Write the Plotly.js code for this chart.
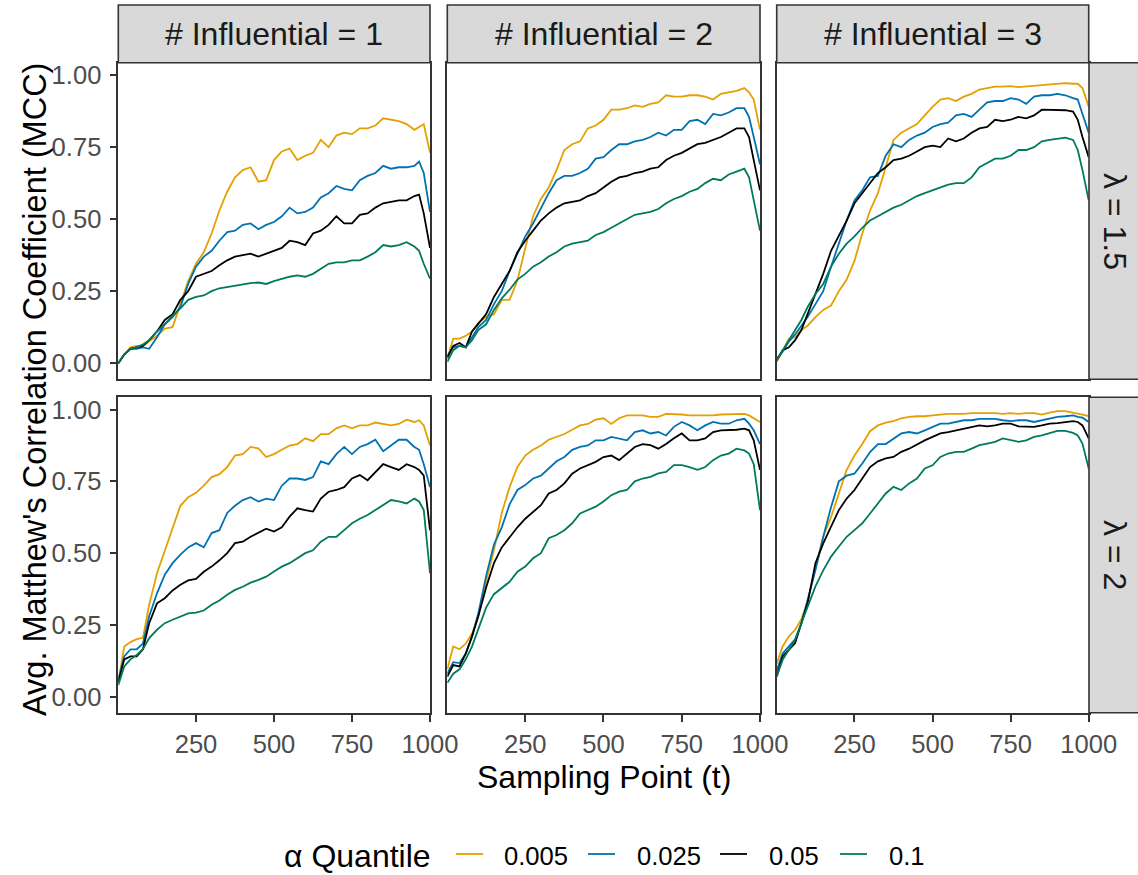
<!DOCTYPE html>
<html>
<head>
<meta charset="utf-8">
<script src="https://cdn.plot.ly/plotly-3.0.1.min.js"></script>
<style>
  html, body { margin: 0; padding: 0; background: #ffffff; }
  #chart { width: 1138px; height: 875px; }
</style>
</head>
<body>
<div id="chart"></div>
<script>
// Sampling points shared by every curve
const samplingPoint = [1, 20, 40, 60, 80, 100, 125, 150, 175, 200, 225, 250, 275, 300, 325, 350, 375, 400, 425, 450,
  475, 500, 525, 550, 575, 600, 625, 650, 675, 700, 725, 750, 775, 800, 825, 850, 875, 900, 925, 950, 965, 980, 1000];

const alphaLevels = ['0.005', '0.025', '0.05', '0.1'];
const alphaColors = ['#E69F00', '#0072B2', '#000000', '#007A5E'];
const influentialLabels = ['# Influential = 1', '# Influential = 2', '# Influential = 3'];
const lambdaLabels = ['\u03bb = 1.5', '\u03bb = 2'];
const xTicks = [250, 500, 750, 1000];
const yTicks = [0, 0.25, 0.5, 0.75, 1];
const yTickText = ['0.00', '0.25', '0.50', '0.75', '1.00'];

// lambda = 1.5, # influential = 1
const mcc_l15_i1_a005 = [0.00,0.03,0.055,0.06,0.06,0.075, 0.095,0.12,0.125,0.205,0.285,0.345,0.385,0.45,0.53,0.595,0.645,0.67,0.68,0.63,
  0.635,0.705,0.735,0.745,0.705,0.72,0.73,0.775,0.75,0.79, 0.80,0.795,0.815,0.815,0.825,0.85,0.845,0.84,0.83,0.81, 0.82,0.83,0.73];
const mcc_l15_i1_a025 = [0.00,0.03,0.05,0.05,0.055,0.05, 0.09,0.135,0.16,0.195,0.275,0.335,0.37,0.39,0.425,0.455,0.46,0.48,0.485,0.465,
  0.48,0.49,0.51,0.54,0.52,0.525,0.54,0.575,0.59,0.615, 0.605,0.60,0.635,0.65,0.66,0.685,0.675,0.68,0.68,0.685, 0.70,0.66,0.525];
const mcc_l15_i1_a05 = [0.00,0.03,0.05,0.055,0.06,0.08, 0.11,0.15,0.17,0.22,0.25,0.30,0.31,0.32,0.34,0.357,0.37,0.375,0.38,0.37,
  0.38,0.39,0.40,0.425,0.42,0.41,0.45,0.46,0.48,0.51, 0.485,0.485,0.515,0.52,0.54,0.555,0.56,0.565,0.565,0.58, 0.585,0.52,0.40];
const mcc_l15_i1_a1 = [0.00,0.03,0.05,0.055,0.065,0.08, 0.11,0.135,0.165,0.19,0.22,0.23,0.235,0.25,0.26,0.265,0.27,0.273,0.278,0.28,
  0.275,0.285,0.293,0.30,0.305,0.30,0.31,0.328,0.345,0.35, 0.35,0.357,0.357,0.37,0.385,0.41,0.405,0.41,0.42,0.405, 0.39,0.345,0.293];

// lambda = 1.5, # influential = 2
const mcc_l15_i2_a005 = [0.015,0.085,0.085,0.095,0.11,0.14, 0.16,0.17,0.22,0.22,0.287,0.40,0.51,0.57,0.61,0.67,0.74,0.76,0.77,0.815,
  0.825,0.845,0.88,0.88,0.885,0.895,0.89,0.90,0.905,0.93, 0.925,0.925,0.93,0.93,0.925,0.915,0.935,0.94,0.945,0.955, 0.94,0.915,0.81];
const mcc_l15_i2_a025 = [0.025,0.055,0.06,0.055,0.09,0.125, 0.15,0.205,0.25,0.32,0.38,0.44,0.485,0.54,0.59,0.635,0.65,0.65,0.66,0.675,
  0.71,0.715,0.74,0.76,0.76,0.77,0.775,0.785,0.80,0.79, 0.81,0.81,0.84,0.845,0.83,0.865,0.86,0.87,0.885,0.885, 0.855,0.785,0.69];
const mcc_l15_i2_a05 = [0.02,0.06,0.07,0.055,0.11,0.135, 0.17,0.23,0.275,0.32,0.385,0.425,0.46,0.495,0.52,0.54,0.555,0.56,0.565,0.58,
  0.59,0.61,0.63,0.645,0.65,0.66,0.665,0.675,0.68,0.705, 0.72,0.73,0.745,0.76,0.765,0.775,0.785,0.80,0.815,0.815, 0.785,0.705,0.60];
const mcc_l15_i2_a1 = [0.005,0.045,0.06,0.055,0.08,0.115, 0.135,0.185,0.225,0.255,0.29,0.31,0.335,0.35,0.37,0.385,0.405,0.415,0.42,0.425,
  0.445,0.455,0.47,0.485,0.50,0.515,0.52,0.525,0.535,0.555, 0.57,0.58,0.595,0.605,0.625,0.64,0.635,0.655,0.665,0.675, 0.645,0.565,0.46];

// lambda = 1.5, # influential = 3
const mcc_l15_i3_a005 = [0.005,0.045,0.085,0.09,0.115,0.13, 0.16,0.185,0.20,0.25,0.29,0.355,0.45,0.53,0.59,0.68,0.775,0.80,0.815,0.83,
  0.86,0.89,0.915,0.92,0.91,0.925,0.935,0.95,0.955,0.96, 0.96,0.962,0.958,0.96,0.963,0.965,0.968,0.97,0.972,0.97, 0.97,0.955,0.89];
const mcc_l15_i3_a025 = [0.015,0.04,0.075,0.10,0.13,0.16, 0.205,0.25,0.335,0.415,0.495,0.565,0.60,0.645,0.65,0.72,0.76,0.75,0.775,0.79,
  0.80,0.82,0.83,0.835,0.86,0.865,0.855,0.88,0.905,0.91, 0.91,0.92,0.915,0.90,0.925,0.93,0.93,0.935,0.93,0.92, 0.915,0.865,0.80];
const mcc_l15_i3_a05 = [0.01,0.045,0.055,0.08,0.115,0.17, 0.24,0.31,0.39,0.44,0.495,0.555,0.59,0.625,0.66,0.68,0.705,0.71,0.72,0.735,
  0.75,0.755,0.75,0.78,0.77,0.78,0.80,0.815,0.82,0.845, 0.84,0.845,0.855,0.85,0.86,0.88,0.88,0.878,0.878,0.873, 0.845,0.785,0.715];
const mcc_l15_i3_a1 = [0.01,0.045,0.08,0.115,0.15,0.195, 0.24,0.275,0.335,0.38,0.415,0.44,0.47,0.495,0.51,0.525,0.54,0.55,0.565,0.58,
  0.59,0.60,0.61,0.62,0.625,0.625,0.645,0.68,0.695,0.71, 0.71,0.72,0.74,0.74,0.75,0.77,0.775,0.78,0.783,0.775, 0.74,0.67,0.565];

// lambda = 2, # influential = 1
const mcc_l2_i1_a005 = [0.05,0.175,0.19,0.20,0.205,0.32, 0.43,0.51,0.59,0.665,0.695,0.71,0.735,0.765,0.775,0.80,0.84,0.845,0.87,0.865,
  0.835,0.845,0.86,0.875,0.88,0.90,0.89,0.915,0.915,0.935, 0.945,0.935,0.945,0.945,0.955,0.95,0.945,0.95,0.965,0.957, 0.963,0.945,0.875];
const mcc_l2_i1_a025 = [0.06,0.14,0.165,0.165,0.185,0.28, 0.36,0.425,0.465,0.495,0.52,0.535,0.52,0.57,0.58,0.64,0.665,0.685,0.695,0.68,
  0.69,0.685,0.735,0.76,0.76,0.755,0.765,0.82,0.81,0.845, 0.87,0.845,0.87,0.88,0.895,0.855,0.875,0.895,0.895,0.87, 0.86,0.81,0.73];
const mcc_l2_i1_a05 = [0.05,0.13,0.14,0.14,0.165,0.256, 0.325,0.343,0.37,0.39,0.405,0.41,0.435,0.453,0.475,0.50,0.535,0.54,0.557,0.57,
  0.585,0.575,0.59,0.627,0.656,0.65,0.645,0.69,0.714,0.72, 0.73,0.76,0.772,0.754,0.783,0.81,0.80,0.79,0.81,0.80, 0.79,0.77,0.58];
const mcc_l2_i1_a1 = [0.04,0.105,0.13,0.145,0.165,0.204, 0.233,0.256,0.268,0.28,0.29,0.293,0.30,0.32,0.335,0.355,0.372,0.383,0.397,0.407,
  0.418,0.436,0.453,0.465,0.482,0.50,0.51,0.54,0.557,0.557, 0.58,0.604,0.62,0.633,0.65,0.667,0.685,0.68,0.673,0.69, 0.68,0.65,0.43];

// lambda = 2, # influential = 2
const mcc_l2_i2_a005 = [0.095,0.175,0.165,0.185,0.22,0.28, 0.40,0.51,0.64,0.73,0.80,0.84,0.86,0.875,0.895,0.905,0.915,0.93,0.945,0.95,
  0.965,0.97,0.95,0.97,0.98,0.98,0.98,0.975,0.975,0.985, 0.985,0.983,0.98,0.98,0.98,0.98,0.983,0.983,0.985,0.985, 0.98,0.97,0.957];
const mcc_l2_i2_a025 = [0.08,0.12,0.117,0.15,0.21,0.29, 0.42,0.53,0.59,0.67,0.72,0.737,0.76,0.77,0.795,0.82,0.835,0.86,0.87,0.875,
  0.893,0.893,0.905,0.90,0.893,0.922,0.928,0.917,0.922,0.91, 0.94,0.957,0.945,0.928,0.945,0.957,0.951,0.951,0.963,0.968, 0.951,0.928,0.88];
const mcc_l2_i2_a05 = [0.07,0.11,0.105,0.15,0.21,0.28, 0.38,0.465,0.52,0.557,0.59,0.62,0.645,0.667,0.708,0.72,0.743,0.777,0.795,0.806,
  0.818,0.835,0.84,0.824,0.847,0.87,0.88,0.876,0.864,0.88, 0.90,0.917,0.893,0.893,0.90,0.922,0.928,0.928,0.93,0.934, 0.928,0.893,0.79];
const mcc_l2_i2_a1 = [0.048,0.08,0.095,0.13,0.175,0.235, 0.31,0.357,0.378,0.40,0.435,0.453,0.482,0.50,0.552,0.563,0.58,0.604,0.638,0.65,
  0.662,0.68,0.702,0.714,0.72,0.75,0.76,0.766,0.778,0.783, 0.807,0.807,0.80,0.79,0.80,0.824,0.84,0.847,0.864,0.858, 0.847,0.81,0.65];

// lambda = 2, # influential = 3
const mcc_l2_i3_a005 = [0.115,0.175,0.21,0.233,0.27,0.33, 0.45,0.557,0.625,0.71,0.79,0.84,0.88,0.925,0.945,0.955,0.96,0.97,0.975,0.977,
  0.977,0.98,0.983,0.985,0.985,0.985,0.988,0.988,0.99,0.988, 0.985,0.988,0.985,0.988,0.988,0.983,0.99,0.995,0.995,0.99, 0.985,0.983,0.977];
const mcc_l2_i3_a025 = [0.09,0.15,0.175,0.20,0.255,0.337, 0.44,0.557,0.66,0.75,0.77,0.777,0.812,0.852,0.88,0.88,0.90,0.917,0.922,0.917,
  0.928,0.94,0.951,0.951,0.957,0.963,0.963,0.968,0.968,0.968, 0.963,0.96,0.963,0.963,0.957,0.963,0.968,0.975,0.977,0.98, 0.975,0.972,0.957];
const mcc_l2_i3_a05 = [0.07,0.14,0.163,0.187,0.256,0.326, 0.465,0.534,0.592,0.65,0.69,0.72,0.76,0.80,0.82,0.83,0.835,0.853,0.864,0.88,
  0.893,0.905,0.917,0.922,0.928,0.934,0.94,0.945,0.942,0.945, 0.951,0.951,0.942,0.94,0.94,0.945,0.951,0.953,0.957,0.96, 0.957,0.945,0.90];
const mcc_l2_i3_a1 = [0.07,0.128,0.163,0.198,0.256,0.314, 0.384,0.44,0.488,0.523,0.557,0.58,0.604,0.638,0.673,0.708,0.731,0.72,0.743,0.76,
  0.795,0.806,0.835,0.847,0.853,0.853,0.864,0.876,0.882,0.888, 0.90,0.893,0.888,0.893,0.905,0.91,0.917,0.926,0.926,0.919, 0.91,0.882,0.795];

// Panel grid: rows are lambda values, columns are numbers of influential variables
const panelSeries = [
  [[mcc_l15_i1_a005, mcc_l15_i1_a025, mcc_l15_i1_a05, mcc_l15_i1_a1],
   [mcc_l15_i2_a005, mcc_l15_i2_a025, mcc_l15_i2_a05, mcc_l15_i2_a1],
   [mcc_l15_i3_a005, mcc_l15_i3_a025, mcc_l15_i3_a05, mcc_l15_i3_a1]],
  [[mcc_l2_i1_a005, mcc_l2_i1_a025, mcc_l2_i1_a05, mcc_l2_i1_a1],
   [mcc_l2_i2_a005, mcc_l2_i2_a025, mcc_l2_i2_a05, mcc_l2_i2_a1],
   [mcc_l2_i3_a005, mcc_l2_i3_a025, mcc_l2_i3_a05, mcc_l2_i3_a1]]
];

// Page geometry (pixels) for the facet panels
const W = 1138, H = 875;
const colPx = [[118.3, 430], [447.3, 760], [776.7, 1088.7]];
const rowPx = [[62.7, 379.3], [397.3, 712.7]];
const px2x = p => p / W;
const px2y = p => 1 - p / H;

// Legend row geometry (pixels): title start, key line starts, label starts
const legendRowY = 856;
const legendTitleX = 282;
const legendKeyX = [456, 588, 720, 840];
const legendKeyLen = 27;
const legendLabelX = [502, 635, 767, 887];

const FONT = 'Liberation Sans, Arial, Helvetica, sans-serif';
const FRAME = '#333333';
const LINE_W = 1.8;

const traces = [];
const layout = {
  width: W, height: H,
  margin: {l: 0, r: 0, t: 0, b: 0},
  paper_bgcolor: '#ffffff',
  plot_bgcolor: '#ffffff',
  font: {family: FONT, color: '#000000'},
  showlegend: false,
  shapes: [],
  annotations: []
};

for (let r = 0; r < 2; r++) {
  for (let c = 0; c < 3; c++) {
    const n = r * 3 + c + 1;
    const xa = 'xaxis' + (n === 1 ? '' : n);
    const ya = 'yaxis' + (n === 1 ? '' : n);
    const xRef = 'x' + (n === 1 ? '' : n);
    const yRef = 'y' + (n === 1 ? '' : n);

    layout[xa] = {
      domain: [px2x(colPx[c][0]), px2x(colPx[c][1])],
      anchor: yRef,
      range: [1, 1000],
      showgrid: false, zeroline: false,
      showline: true, mirror: true, linecolor: FRAME, linewidth: 1.6,
      ticks: r === 1 ? 'outside' : '', ticklen: 7, tickwidth: 1.6, tickcolor: FRAME,
      tickvals: xTicks,
      showticklabels: r === 1,
      ticklabelstandoff: 1,
      tickfont: {size: 25.6, color: '#4D4D4D', family: FONT}
    };
    layout[ya] = {
      domain: [px2y(rowPx[r][1]), px2y(rowPx[r][0])],
      anchor: xRef,
      range: [-0.056, 1.043],
      showgrid: false, zeroline: false,
      showline: true, mirror: true, linecolor: FRAME, linewidth: 1.6,
      ticks: c === 0 ? 'outside' : '', ticklen: 7, tickwidth: 1.6, tickcolor: FRAME,
      tickvals: yTicks, ticktext: yTickText,
      showticklabels: c === 0,
      ticklabelstandoff: 3,
      tickfont: {size: 25.6, color: '#4D4D4D', family: FONT}
    };

    panelSeries[r][c].forEach((vals, k) => {
      traces.push({
        type: 'scatter', mode: 'lines',
        x: samplingPoint, y: vals,
        xaxis: xRef, yaxis: yRef,
        name: alphaLevels[k],
        legendgroup: alphaLevels[k],
        line: {color: alphaColors[k], width: LINE_W},
        hoverinfo: 'skip'
      });
    });
  }
}

// Column strips along the top
for (let c = 0; c < 3; c++) {
  layout.shapes.push({
    type: 'rect', xref: 'paper', yref: 'paper', layer: 'above',
    x0: px2x(colPx[c][0]), x1: px2x(colPx[c][1]),
    y0: px2y(62.7), y1: px2y(5),
    fillcolor: '#D9D9D9', line: {color: FRAME, width: 1.6}
  });
  layout.annotations.push({
    xref: 'paper', yref: 'paper',
    x: px2x((colPx[c][0] + colPx[c][1]) / 2), y: px2y(34),
    xanchor: 'center', yanchor: 'middle', showarrow: false,
    text: influentialLabels[c],
    font: {size: 32, color: '#1A1A1A', family: FONT}
  });
}

// Row strips along the right side
for (let r = 0; r < 2; r++) {
  layout.shapes.push({
    type: 'rect', xref: 'paper', yref: 'paper', layer: 'above',
    x0: px2x(1089), x1: px2x(1145),
    y0: px2y(rowPx[r][1]), y1: px2y(rowPx[r][0]),
    fillcolor: '#D9D9D9', line: {color: FRAME, width: 1.6}
  });
  layout.annotations.push({
    xref: 'paper', yref: 'paper',
    x: px2x(1115), y: px2y((rowPx[r][0] + rowPx[r][1]) / 2),
    xanchor: 'center', yanchor: 'middle', showarrow: false,
    textangle: 90,
    text: lambdaLabels[r],
    font: {size: 32, color: '#1A1A1A', family: FONT}
  });
}

// Shared axis titles
layout.annotations.push({
  xref: 'paper', yref: 'paper',
  x: px2x(604), y: px2y(777),
  xanchor: 'center', yanchor: 'middle', showarrow: false,
  text: 'Sampling Point (t)',
  font: {size: 32, color: '#000000', family: FONT}
});
layout.annotations.push({
  xref: 'paper', yref: 'paper',
  x: px2x(35), y: px2y(390),
  xanchor: 'center', yanchor: 'middle', showarrow: false,
  textangle: -90,
  text: "Avg. Matthew's Correlation Coefficient (MCC)",
  font: {size: 32.5, color: '#000000', family: FONT}
});

// Legend row: title, then a short key line and a label per quantile
layout.annotations.push({
  xref: 'paper', yref: 'paper',
  x: px2x(legendTitleX), y: px2y(legendRowY),
  xanchor: 'left', yanchor: 'middle', showarrow: false,
  text: '\u03b1 Quantile',
  font: {size: 32, color: '#000000', family: FONT}
});
alphaLevels.forEach((lab, k) => {
  layout.shapes.push({
    type: 'line', xref: 'paper', yref: 'paper',
    x0: px2x(legendKeyX[k]), x1: px2x(legendKeyX[k] + legendKeyLen),
    y0: px2y(legendRowY - 2), y1: px2y(legendRowY - 2),
    line: {color: alphaColors[k], width: LINE_W}
  });
  layout.annotations.push({
    xref: 'paper', yref: 'paper',
    x: px2x(legendLabelX[k]), y: px2y(legendRowY),
    xanchor: 'left', yanchor: 'middle', showarrow: false,
    text: lab,
    font: {size: 25.6, color: '#000000', family: FONT}
  });
});

Plotly.newPlot('chart', traces, layout, {displayModeBar: false, responsive: false});
</script>
</body>
</html>
